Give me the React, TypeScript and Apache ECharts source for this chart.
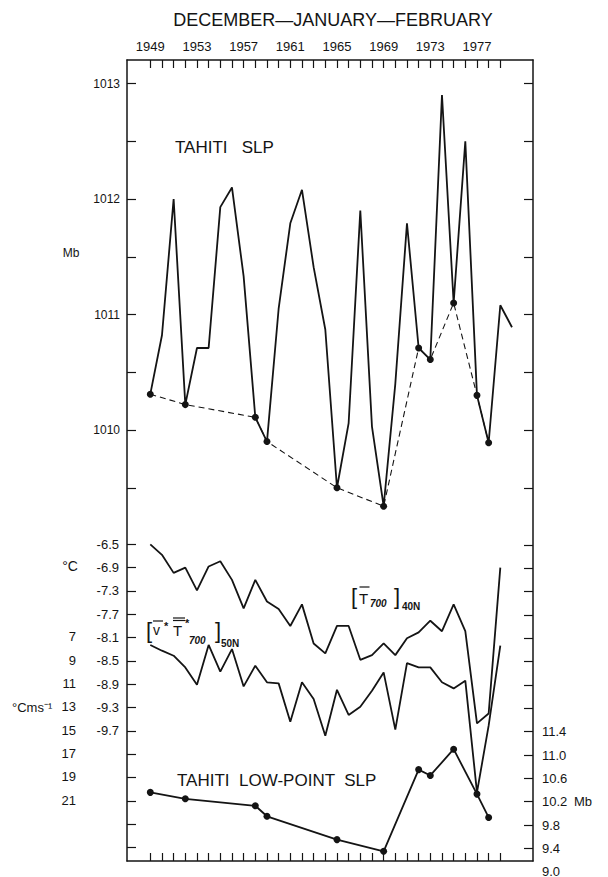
import React, { useEffect, useRef } from "react";
import * as echarts from "echarts";

// ---------- data ----------
const years = [1949, 1950, 1951, 1952, 1953, 1954, 1955, 1956, 1957, 1958, 1959, 1960, 1961, 1962, 1963, 1964,
  1965, 1966, 1967, 1968, 1969, 1970, 1971, 1972, 1973, 1974, 1975, 1976, 1977, 1978, 1979, 1980];
const tahitiSLP = [1010.31, 1010.82, 1012.0, 1010.22, 1010.71, 1010.71, 1011.93, 1012.1, 1011.33, 1010.11, 1009.9,
  1011.05, 1011.79, 1012.08, 1011.41, 1010.87, 1009.5, 1010.06, 1011.9, 1010.03, 1009.34, 1010.4, 1011.79,
  1010.71, 1010.61, 1012.9, 1011.1, 1012.5, 1010.3, 1009.89, 1011.08, 1010.89];
const lowYears = [1949, 1952, 1958, 1959, 1965, 1969, 1972, 1973, 1975, 1977, 1978];
const lowSLP = [1010.31, 1010.22, 1010.11, 1009.9, 1009.5, 1009.34, 1010.71, 1010.61, 1011.1, 1010.3, 1009.89];
const lowPointSLP = [10.36, 10.25, 10.13, 9.95, 9.55, 9.35, 10.75, 10.65, 11.1, 10.33, 9.93];
const tempYears = [1949, 1950, 1951, 1952, 1953, 1954, 1955, 1956, 1957, 1958, 1959, 1960, 1961, 1962, 1963, 1964,
  1965, 1966, 1967, 1968, 1969, 1970, 1971, 1972, 1973, 1974, 1975, 1976, 1977, 1978, 1979];
const t700 = [-6.5, -6.68, -6.99, -6.9, -7.29, -6.88, -6.79, -7.11, -7.6, -7.11, -7.48, -7.61, -7.9, -7.53, -8.2,
  -8.37, -7.9, -7.9, -8.48, -8.4, -8.2, -8.4, -8.11, -8.01, -7.81, -7.99, -7.53, -7.99, -9.57, -9.4, -6.9];
const vT = [7.71, 8.2, 8.63, 9.63, 11.11, 7.71, 10.0, 8.06, 11.26, 9.49, 10.91, 11.0, 14.29, 10.91, 12.34, 15.49,
  11.55, 13.71, 13.0, 11.63, 10.06, 14.97, 9.26, 9.63, 9.63, 10.91, 11.43, 10.77, 20.34, 14.63, 7.77];

const yearLabels = [1949, 1953, 1957, 1961, 1965, 1969, 1973, 1977];
const slpLabels = [1010, 1011, 1012, 1013];
const slpTicks = [1009.5, 1010, 1010.5, 1011, 1011.5, 1012, 1012.5, 1013];
const tempLabels = [-6.5, -6.9, -7.3, -7.7, -8.1, -8.5, -8.9, -9.3, -9.7];
const tempTicks = [-6.5, -6.9, -7.3, -7.7, -8.1, -8.5, -8.9, -9.3, -9.7, -10.1, -10.5, -10.9, -11.3, -11.7];
const vtLabels = [7, 9, 11, 13, 15, 17, 19, 21];
const lowLabels = [11.4, 11.0, 10.6, 10.2, 9.8, 9.4];
const lowTicks = [9.4, 9.8, 10.2, 10.6, 11.0, 11.4, 11.8, 12.2, 12.6, 13.0, 13.4, 13.8, 14.2, 14.6];

// ---------- layout ----------
const W = 608, H = 877;
const GL = 127, GR = 533, GT = 60, GB = 861;
const FONT = "Liberation Sans";
const INK = "#141414";

function range(v0: number, y0: number, k: number) {
  return { min: v0 - (GB - y0) / k, max: v0 + (y0 - GT) / k };
}

export default function App() {
  const ref = useRef<HTMLDivElement>(null);
  useEffect(() => {
    document.body.style.margin = "0";
    if (!ref.current) return;
    const chart = echarts.init(ref.current, undefined, { renderer: "svg" });
    const xMin = 1949 - (150.3 - GL) / 11.667;
    const xMax = 1949 + (GR - 150.3) / 11.667;
    const slpR = range(1010, 430, 115.5);
    const tR = range(-6.5, 544.3, 58.33);
    const lR = range(10.2, 801.7, 58.33);
    const vMin = 7 - (636.7 - GT) / 11.667;
    const vMax = 7 + (GB - 636.7) / 11.667;
    const line = { color: INK, width: 1.5 };
    const yearTicks = tempYears.slice();
    const lab = { fontFamily: FONT, color: INK };
    const txt = (text: string, x: number, y: number, size: number, align = "left", extra: any = {}) => ({
      type: "text", x, y, silent: true,
      style: { text, fontSize: size, fontFamily: FONT, fill: INK, align, verticalAlign: "middle",
        textAlign: align, textVerticalAlign: "middle", ...extra },
    });
    const bar = (x1: number, x2: number, y: number) => ({
      type: "line", silent: true, shape: { x1, y1: y, x2, y2: y }, style: { stroke: INK, lineWidth: 1.2 },
    });
    chart.setOption({
      animation: false,
      backgroundColor: "#ffffff",
      grid: { left: GL, right: W - GR, top: GT, bottom: H - GB, containLabel: false, outerBoundsMode: "none" },
      xAxis: [
        {
          type: "value", position: "top", min: xMin, max: xMax,
          axisLine: { show: true, onZero: false, lineStyle: line },
          axisTick: { show: true, inside: true, length: 8, customValues: yearTicks, lineStyle: { color: INK, width: 1.2 } },
          axisLabel: { show: true, customValues: yearLabels, margin: 7, fontSize: 13, ...lab, formatter: (v: number) => String(v) },
          splitLine: { show: false },
        },
        {
          type: "value", position: "bottom", min: xMin, max: xMax,
          axisLine: { show: true, onZero: false, lineStyle: line },
          axisTick: { show: true, inside: true, length: 8, customValues: yearTicks, lineStyle: { color: INK, width: 1.2 } },
          axisLabel: { show: false },
          splitLine: { show: false },
        },
      ],
      yAxis: [
        {
          type: "value", position: "left", min: slpR.min, max: slpR.max,
          axisLine: { show: true, onZero: false, lineStyle: line },
          axisTick: { show: true, inside: true, length: 9, customValues: slpTicks, lineStyle: { color: INK, width: 1.2 } },
          axisLabel: { show: true, customValues: slpLabels, margin: 7, fontSize: 12, ...lab, formatter: (v: number) => String(v) },
          splitLine: { show: false },
        },
        {
          type: "value", position: "left", min: tR.min, max: tR.max,
          axisLine: { show: false, onZero: false },
          axisTick: { show: true, inside: true, length: 9, customValues: tempTicks, lineStyle: { color: INK, width: 1.2 } },
          axisLabel: { show: true, customValues: tempLabels, margin: 8, fontSize: 13, ...lab, formatter: (v: number) => v.toFixed(1) },
          splitLine: { show: false },
        },
        {
          type: "value", position: "left", inverse: true, min: vMin, max: vMax,
          axisLine: { show: false, onZero: false },
          axisTick: { show: false },
          axisLabel: { show: true, customValues: vtLabels, margin: 51, fontSize: 13, ...lab, formatter: (v: number) => String(v) },
          splitLine: { show: false },
        },
        {
          type: "value", position: "right", min: lR.min, max: lR.max,
          axisLine: { show: false, onZero: false },
          axisTick: { show: true, inside: true, length: 9, customValues: lowTicks, lineStyle: { color: INK, width: 1.2 } },
          axisLabel: { show: true, customValues: lowLabels, margin: 9, fontSize: 13, ...lab, formatter: (v: number) => v.toFixed(1) },
          splitLine: { show: false },
        },
        {
          type: "value", position: "right", min: slpR.min, max: slpR.max,
          axisLine: { show: true, onZero: false, lineStyle: line },
          axisTick: { show: true, inside: true, length: 9, customValues: slpTicks, lineStyle: { color: INK, width: 1.2 } },
          axisLabel: { show: false },
          splitLine: { show: false },
        },
      ],
      series: [
        {
          type: "line", name: "Tahiti SLP", xAxisIndex: 0, yAxisIndex: 0, showSymbol: false, symbol: "none",
          data: years.map((y, i) => [y, tahitiSLP[i]]),
          lineStyle: { color: INK, width: 1.8 },
        },
        {
          type: "line", name: "Tahiti low-point SLP (upper)", xAxisIndex: 0, yAxisIndex: 0, symbol: "circle", symbolSize: 7,
          data: lowYears.map((y, i) => [y, lowSLP[i]]),
          itemStyle: { color: INK },
          lineStyle: { color: INK, width: 1.1, type: [6, 4] },
        },
        {
          type: "line", name: "T700 40N", xAxisIndex: 0, yAxisIndex: 1, symbol: "none",
          data: tempYears.map((y, i) => [y, t700[i]]),
          lineStyle: { color: INK, width: 1.8 },
        },
        {
          type: "line", name: "v*T* 700 50N", xAxisIndex: 0, yAxisIndex: 2, symbol: "none",
          data: tempYears.map((y, i) => [y, vT[i]]),
          lineStyle: { color: INK, width: 1.8 },
        },
        {
          type: "line", name: "Tahiti low-point SLP", xAxisIndex: 0, yAxisIndex: 3, symbol: "circle", symbolSize: 7,
          data: lowYears.map((y, i) => [y, lowPointSLP[i]]),
          itemStyle: { color: INK },
          lineStyle: { color: INK, width: 1.8 },
        },
      ],
      graphic: [
        txt("DECEMBER—JANUARY—FEBRUARY", 333, 20, 18, "center"),
        txt("TAHITI   SLP", 175, 147, 17),
        txt("TAHITI  LOW-POINT  SLP", 177, 780, 17),
        txt("Mb", 71, 253, 12, "center"),
        txt("°C", 70, 566, 14, "center"),
        txt("°Cms⁻¹", 12, 707, 13),
        txt("Mb", 583, 801, 13, "center"),
        txt("9.0", 542, 871, 13),
        // [T700]40N label
        txt("[", 351, 596, 22, "left", { fontWeight: "lighter" }),
        txt("T", 359, 598, 15),
        bar(359.5, 369.5, 587),
        txt("700", 370, 603, 10, "left", { fontStyle: "italic", fontWeight: "bold" }),
        txt("]", 394, 596, 22, "left", { fontWeight: "lighter" }),
        txt("40N", 402, 606, 10, "left", { fontWeight: "bold" }),
        // [v*T*700]50N label
        txt("[", 146, 630, 22, "left", { fontWeight: "lighter" }),
        txt("v", 153, 630, 14),
        bar(153, 163, 621),
        txt("*", 164, 626, 11, "left", { fontWeight: "bold" }),
        txt("T", 173, 630, 15),
        bar(173, 185, 618),
        bar(173, 185, 620.5),
        txt("*", 185, 623, 11, "left", { fontWeight: "bold" }),
        txt("700", 189, 640, 10, "left", { fontStyle: "italic", fontWeight: "bold" }),
        txt("]", 215, 630, 22, "left", { fontWeight: "lighter" }),
        txt("50N", 221, 643, 10, "left", { fontWeight: "bold" }),
      ],
    });
    return () => chart.dispose();
  }, []);
  return <div ref={ref} style={{ width: W, height: H }} />;
}
